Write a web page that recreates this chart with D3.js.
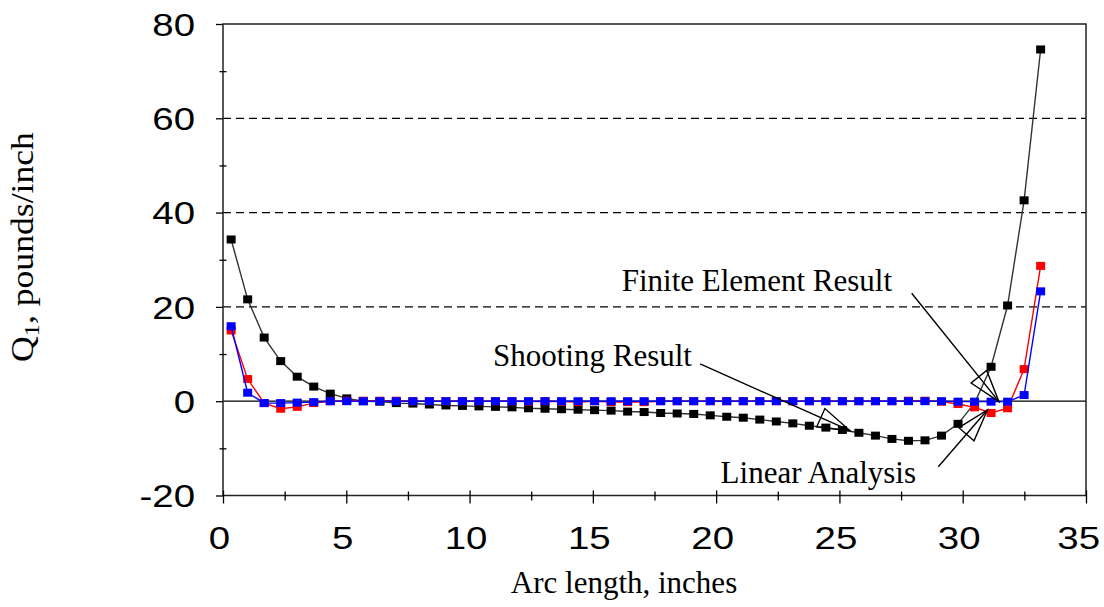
<!DOCTYPE html>
<html>
<head>
<meta charset="utf-8">
<script src="https://cdn.jsdelivr.net/npm/d3@7"></script>
<style>
  html, body { margin: 0; padding: 0; background: #fff; }
  svg { display: block; }
  .serif { font-family: "Liberation Serif", "Times New Roman", serif; fill: #000; }
</style>
</head>
<body>
<div id="chart"></div>
<script>
var width = 1104;
var height = 607;

// arc length stations, inches
var arcLength = [0.33, 1.0, 1.67, 2.34, 3.01, 3.68, 4.35, 5.02, 5.69, 6.36,
  7.03, 7.7, 8.37, 9.04, 9.71, 10.38, 11.05, 11.72, 12.39, 13.06,
  13.73, 14.4, 15.07, 15.74, 16.41, 17.08, 17.75, 18.42, 19.09, 19.76,
  20.43, 21.1, 21.77, 22.44, 23.11, 23.78, 24.45, 25.12, 25.79, 26.46,
  27.13, 27.8, 28.47, 29.14, 29.81, 30.48, 31.15, 31.82, 32.49, 33.16];

// Q1, pounds/inch
var shooting = [34.3, 21.6, 13.5, 8.5, 5.2, 3.1, 1.6, 0.6, 0.0, -0.1,
  -0.4, -0.5, -0.7, -0.9, -1.0, -1.1, -1.2, -1.3, -1.5, -1.6,
  -1.7, -1.8, -1.9, -2.0, -2.2, -2.3, -2.5, -2.6, -2.7, -3.0,
  -3.3, -3.5, -3.9, -4.3, -4.7, -5.2, -5.6, -6.1, -6.7, -7.3,
  -8.0, -8.4, -8.3, -7.3, -4.8, -0.4, 7.3, 20.3, 42.6, 74.6];

var finiteElement = [15.0, 4.7, -0.4, -1.6, -1.2, -0.4, 0.0, 0.1, 0.1, 0.1,
  0.1, 0.0, 0.0, 0.0, 0.0, 0.0, 0.0, 0.0, -0.1, 0.0,
  -0.1, -0.2, 0.0, -0.2, -0.2, -0.2, 0.0, 0.0, 0.0, 0.0,
  0.0, 0.0, 0.0, 0.0, 0.0, 0.0, 0.0, 0.0, 0.0, 0.0,
  0.0, 0.1, 0.1, -0.1, -0.6, -1.3, -2.5, -1.5, 6.8, 28.7];

var linear = [15.9, 1.8, -0.4, -0.4, -0.3, -0.2, 0.0, 0.0, 0.0, 0.0,
  0.0, 0.0, 0.0, 0.0, 0.0, 0.0, 0.0, 0.0, 0.0, 0.0,
  0.0, 0.0, 0.0, 0.0, 0.0, 0.0, 0.0, 0.0, 0.0, 0.0,
  0.0, 0.0, 0.0, 0.0, 0.0, 0.0, 0.0, 0.0, 0.0, 0.0,
  0.0, 0.0, 0.0, 0.0, -0.1, -0.1, -0.1, -0.1, 1.3, 23.3];

var xTicks = [0, 5, 10, 15, 20, 25, 30, 35];
var xMinorTicks = [2.5, 7.5, 12.5, 17.5, 22.5, 27.5, 32.5];
var yTicks = [-20, 0, 20, 40, 60, 80];
var yMinorTicks = [-10, 10, 30, 50, 70];
var gridValues = [20, 40, 60];

// label text, label anchor point and arrow (from -> tip), all in data units
var annotations = [
  {text: "Finite Element Result", anchor: "start", at: [16.17, 23.4], from: [27.93, 22.9], tip: [31.47, -0.1]},
  {text: "Shooting Result", anchor: "end", at: [19.02, 7.47], from: [19.35, 7.9], tip: [25.43, -6.26]},
  {text: "Linear Analysis", anchor: "start", at: [20.18, -17.4], from: [29.01, -13.9], tip: [31.0, -1.87]}
];

var margin = {left: 223, right: 18, top: 24, bottom: 111.5};

var x = d3.scaleLinear().domain([0, 35]).range([margin.left, width - margin.right]);
var y = d3.scaleLinear().domain([-20, 80]).range([height - margin.bottom, margin.top]);

var svg = d3.select("#chart").append("svg")
  .attr("width", width)
  .attr("height", height);

// dashed grid lines
svg.append("g").selectAll("line")
  .data(gridValues)
  .enter().append("line")
  .attr("x1", x(0)).attr("x2", x(35))
  .attr("y1", function(d){ return y(d); })
  .attr("y2", function(d){ return y(d); })
  .attr("stroke", "#000")
  .attr("stroke-width", 1.3)
  .attr("stroke-dasharray", "8,5");

// zero line
svg.append("line")
  .attr("x1", x(0)).attr("x2", x(35))
  .attr("y1", y(0)).attr("y2", y(0))
  .attr("stroke", "#000").attr("stroke-width", 1.3);

// frame
svg.append("rect")
  .attr("x", x(0)).attr("y", y(80))
  .attr("width", x(35) - x(0)).attr("height", y(-20) - y(80))
  .attr("fill", "none").attr("stroke", "#222").attr("stroke-width", 1.5);

var stretch = 1.24;
var tickFont = "'Liberation Sans', Arial, sans-serif";
var plainFormat = function(d){ return String(d); };   // hyphen, not U+2212

// y axis
var yAxis = svg.append("g")
  .attr("transform", "translate(" + x(0) + ",0)")
  .call(d3.axisLeft(y).tickValues(yTicks).tickFormat(plainFormat).tickSize(7).tickPadding(21));
yAxis.select(".domain").remove();
yAxis.selectAll("line").attr("stroke", "#000").attr("stroke-width", 1.3);
yAxis.selectAll("text")
  .attr("x", -28 / stretch)
  .attr("dy", "0.36em")
  .attr("transform", "scale(" + stretch + ",1)")
  .style("font-family", tickFont)
  .style("font-size", "31px")
  .attr("fill", "#000");

var yMinor = svg.append("g")
  .attr("transform", "translate(" + x(0) + ",0)")
  .call(d3.axisLeft(y).tickValues(yMinorTicks).tickFormat(""));
yMinor.select(".domain").remove();
yMinor.selectAll("line").attr("x1", -3.5).attr("x2", 3.5).attr("stroke", "#000").attr("stroke-width", 1.3);

// x axis
var xAxis = svg.append("g")
  .attr("transform", "translate(0," + y(-20) + ")")
  .call(d3.axisBottom(x).tickValues(xTicks).tickFormat(plainFormat).tickSize(8));
xAxis.select(".domain").remove();
xAxis.selectAll("line").attr("y1", -5).attr("y2", 8).attr("stroke", "#000").attr("stroke-width", 1.3);
xAxis.selectAll("text")
  .attr("x", -4 / stretch)
  .attr("y", 31)
  .attr("dy", "0.71em")
  .attr("transform", "scale(" + stretch + ",1)")
  .style("font-family", tickFont)
  .style("font-size", "31px")
  .attr("fill", "#000");
// keep the last label inside the picture
xAxis.selectAll("text").each(function(){
  var r = this.getBoundingClientRect();
  if (r.right > width - 4) {
    var cur = +d3.select(this).attr("x");
    d3.select(this).attr("x", cur - (r.right - (width - 4)) / stretch);
  }
});

var xMinor = svg.append("g")
  .attr("transform", "translate(0," + y(-20) + ")")
  .call(d3.axisBottom(x).tickValues(xMinorTicks).tickFormat(""));
xMinor.select(".domain").remove();
xMinor.selectAll("line").attr("y1", -4).attr("y2", 5).attr("stroke", "#000").attr("stroke-width", 1.3);

// series
var series = [
  {values: shooting, color: "#000", line: "#333"},
  {values: finiteElement, color: "#ff0000", line: "#ff0000"},
  {values: linear, color: "#0000ff", line: "#0000ff"}
];

var lineGen = d3.line()
  .x(function(d){ return x(d[0]); })
  .y(function(d){ return y(d[1]); });

series.forEach(function(s){
  var pts = arcLength.map(function(a, i){ return [a, s.values[i]]; });
  var g = svg.append("g");
  g.append("path")
    .attr("d", lineGen(pts))
    .attr("fill", "none")
    .attr("stroke", s.line)
    .attr("stroke-width", 1.4);
  g.selectAll("rect")
    .data(pts)
    .enter().append("rect")
    .attr("x", function(d){ return x(d[0]) - 4.5; })
    .attr("y", function(d){ return y(d[1]) - 4; })
    .attr("width", 9)
    .attr("height", 8)
    .attr("fill", s.color);
});

// annotations
var headLen = 32, headHalf = 10;
annotations.forEach(function(a){
  svg.append("text")
    .attr("class", "serif")
    .attr("x", x(a.at[0]))
    .attr("y", y(a.at[1]))
    .attr("text-anchor", a.anchor)
    .style("font-size", "31px")
    .text(a.text);

  var x0 = x(a.from[0]), y0 = y(a.from[1]);
  var x1 = x(a.tip[0]), y1 = y(a.tip[1]);
  svg.append("line")
    .attr("x1", x0).attr("y1", y0)
    .attr("x2", x1).attr("y2", y1)
    .attr("stroke", "#000").attr("stroke-width", 1.4);

  var dx = x1 - x0, dy = y1 - y0, len = Math.sqrt(dx*dx + dy*dy);
  var ux = dx / len, uy = dy / len;
  var bx = x1 - ux * headLen, by = y1 - uy * headLen;
  var tri = [[x1, y1], [bx - uy * headHalf, by + ux * headHalf], [bx + uy * headHalf, by - ux * headHalf]];
  svg.append("path")
    .attr("d", "M" + tri.join("L") + "Z")
    .attr("fill", "none")
    .attr("stroke", "#000")
    .attr("stroke-width", 1.4);
});

// axis titles
svg.append("text")
  .attr("class", "serif")
  .attr("x", 624)
  .attr("y", 593)
  .attr("text-anchor", "middle")
  .style("font-size", "31px")
  .text("Arc length, inches");

var yTitle = svg.append("text")
  .attr("class", "serif")
  .attr("transform", "translate(33,247) rotate(-90) scale(1.15,1)")
  .attr("text-anchor", "middle")
  .style("font-size", "31px");
yTitle.append("tspan").text("Q");
yTitle.append("tspan").attr("dy", 6).style("font-size", "21px").text("1");
yTitle.append("tspan").attr("dy", -6).text(", pounds/inch");
</script>
</body>
</html>
